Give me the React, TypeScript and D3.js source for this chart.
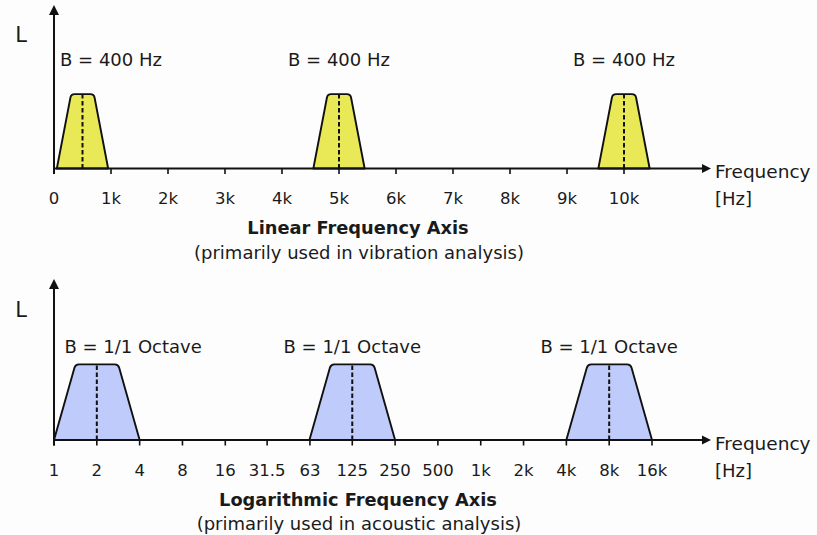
import React from "react";
import * as d3 from "d3";

// ---- data ----
const linTickValues = [0, 1000, 2000, 3000, 4000, 5000, 6000, 7000, 8000, 9000, 10000];
const linTickLabels = ["0", "1k", "2k", "3k", "4k", "5k", "6k", "7k", "8k", "9k", "10k"];
const linCenters = [500, 5000, 10000];
const linBandwidth = 400; // Hz (flat top)
const linSkirt = 900; // Hz (base width)
const linLabelPos = [1000, 5000, 10000];
const linBandLabels = ["B = 400 Hz", "B = 400 Hz", "B = 400 Hz"];

const logTickValues = [1, 2, 4, 8, 16, 31.5, 63, 125, 250, 500, 1000, 2000, 4000, 8000, 16000];
const logTickLabels = ["1", "2", "4", "8", "16", "31.5", "63", "125", "250", "500", "1k", "2k", "4k", "8k", "16k"];
const logCenters = [2, 125, 8000];
const logTopFactor = Math.SQRT2; // 1/1 octave flat top
const logBaseFactor = 2; // base spans one octave each side
const logLabelPos = [3.6, 125, 8000];
const logBandLabels = ["B = 1/1 Octave", "B = 1/1 Octave", "B = 1/1 Octave"];

const topLevel = 0.455;
const bottomLevel = 0.47;

const FONT = "DejaVu Sans, Verdana, sans-serif";
const TXT = "#1a1a1a";

function trapPath(xl0: number, xl1: number, xr1: number, xr0: number, yb: number, yt: number) {
  const r = 3.5;
  const p = d3.path();
  p.moveTo(xl0, yb);
  const dxl = xl1 - xl0, dyl = yt - yb;
  const ll = Math.hypot(dxl, dyl);
  p.lineTo(xl1 - (dxl / ll) * r, yt - (dyl / ll) * r);
  p.quadraticCurveTo(xl1, yt, xl1 + r, yt);
  p.lineTo(xr1 - r, yt);
  const dxr = xr0 - xr1, dyr = yb - yt;
  const lr = Math.hypot(dxr, dyr);
  p.quadraticCurveTo(xr1, yt, xr1 + (dxr / lr) * r, yt + (dyr / lr) * r);
  p.lineTo(xr0, yb);
  p.closePath();
  return p.toString();
}

type PanelProps = {
  x: (v: number) => number;
  yBase: number;
  yTop: number;
  level: number;
  ticks: number[];
  tickLabels: string[];
  bands: { l0: number; l1: number; r1: number; r0: number; c: number }[];
  fill: string;
  bandLabels: string[];
  labelPos: number[];
  labelY: number;
  title: string;
  subtitle: string;
  tickLabelY: number;
  titleY: number;
  subtitleY: number;
  LY: number;
};

function Panel(p: PanelProps) {
  const y = d3.scaleLinear().domain([0, 1]).range([p.yBase, p.yTop]);
  const yb = y(0);
  const yt = y(p.level);
  const axisX = p.x(p.ticks[0]);
  const arrowEnd = 711;
  return (
    <g>
      {p.bands.map((b, i) => (
        <path
          key={"b" + i}
          d={trapPath(p.x(b.l0), p.x(b.l1), p.x(b.r1), p.x(b.r0), yb, yt)}
          fill={p.fill}
          stroke="#111"
          strokeWidth={1.9}
          strokeLinejoin="round"
        />
      ))}
      {p.bands.map((b, i) => (
        <line
          key={"d" + i}
          x1={p.x(b.c)}
          x2={p.x(b.c)}
          y1={yb}
          y2={yt}
          stroke="#111"
          strokeWidth={2}
          strokeDasharray="4.5,2.5"
        />
      ))}
      <line x1={axisX} x2={arrowEnd - 8} y1={yb} y2={yb} stroke="#111" strokeWidth={2} />
      <path d={`M${arrowEnd},${yb} L${arrowEnd - 9},${yb - 4.5} L${arrowEnd - 9},${yb + 4.5} Z`} fill="#111" />
      <line x1={axisX} x2={axisX} y1={yb + 5.5} y2={p.yTop + 9} stroke="#111" strokeWidth={2} />
      <path d={`M${axisX},${p.yTop} L${axisX - 5},${p.yTop + 10} L${axisX + 5},${p.yTop + 10} Z`} fill="#111" />
      {p.ticks.map((t, i) => (
        <g key={"t" + i}>
          <line x1={p.x(t)} x2={p.x(t)} y1={yb} y2={yb + 5.5} stroke="#111" strokeWidth={1.6} />
          <text
            x={p.x(t)}
            y={p.tickLabelY}
            textAnchor="middle"
            dominantBaseline="central"
            fontFamily={FONT}
            fontSize={16.5}
            fill={TXT}
          >
            {p.tickLabels[i]}
          </text>
        </g>
      ))}
      <text x={715} y={yb + 3} dominantBaseline="central" fontFamily={FONT} fontSize={18.5} fill={TXT}>
        Frequency
      </text>
      <text x={715} y={p.tickLabelY} dominantBaseline="central" fontFamily={FONT} fontSize={18} fill={TXT}>
        [Hz]
      </text>
      <text x={21} y={p.LY} textAnchor="middle" dominantBaseline="central" fontFamily={FONT} fontSize={21} fill={TXT}>
        L
      </text>
      {p.bandLabels.map((s, i) => (
        <text
          key={"l" + i}
          x={p.x(p.labelPos[i])}
          y={p.labelY}
          textAnchor="middle"
          dominantBaseline="central"
          fontFamily={FONT}
          fontSize={18}
          fill={TXT}
        >
          {s}
        </text>
      ))}
      <text x={358} y={p.titleY} textAnchor="middle" dominantBaseline="central" fontFamily={FONT} fontSize={17.8} fontWeight="bold" fill={TXT}>
        {p.title}
      </text>
      <text x={359} y={p.subtitleY} textAnchor="middle" dominantBaseline="central" fontFamily={FONT} fontSize={18} fill={TXT}>
        {p.subtitle}
      </text>
    </g>
  );
}

export default function App() {
  const xLin = d3.scaleLinear().domain([0, 10000]).range([54, 624]);
  const xLog = d3.scaleLog().base(2).domain([1, 16000]).range([54, 652]);

  const linBands = linCenters.map((c) => ({
    l0: c - linSkirt / 2,
    l1: c - linBandwidth / 2,
    r1: c + linBandwidth / 2,
    r0: c + linSkirt / 2,
    c,
  }));
  const logBands = logCenters.map((c) => ({
    l0: c / logBaseFactor,
    l1: c / logTopFactor,
    r1: c * logTopFactor,
    r0: c * logBaseFactor,
    c,
  }));

  return (
    <svg
      width={817}
      height={535}
      style={{ position: "absolute", left: 0, top: 0, background: "#fdfdfd" }}
    >
      <rect x={0} y={0} width={817} height={535} fill="#fdfdfd" />
      <Panel
        x={xLin}
        yBase={168.5}
        yTop={5}
        level={topLevel}
        ticks={linTickValues}
        tickLabels={linTickLabels}
        bands={linBands}
        fill="#e9e957"
        bandLabels={linBandLabels}
        labelPos={linLabelPos}
        labelY={59}
        title="Linear Frequency Axis"
        subtitle="(primarily used in vibration analysis)"
        tickLabelY={198}
        titleY={227}
        subtitleY={252}
        LY={35}
      />
      <Panel
        x={xLog}
        yBase={440}
        yTop={279}
        level={bottomLevel}
        ticks={logTickValues}
        tickLabels={logTickLabels}
        bands={logBands}
        fill="#bfcbfa"
        bandLabels={logBandLabels}
        labelPos={logLabelPos}
        labelY={346}
        title="Logarithmic Frequency Axis"
        subtitle="(primarily used in acoustic analysis)"
        tickLabelY={470}
        titleY={499}
        subtitleY={523}
        LY={310}
      />
    </svg>
  );
}
